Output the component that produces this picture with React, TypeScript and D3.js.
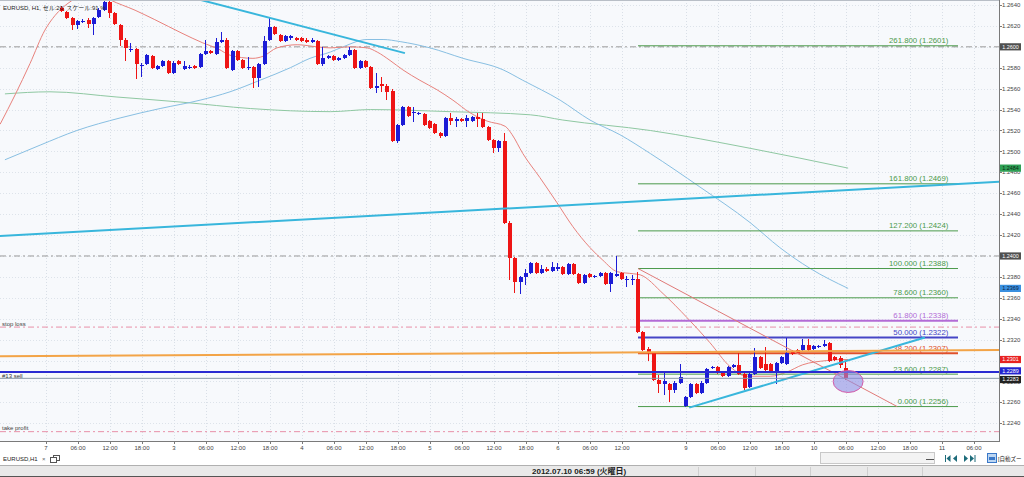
import React from "react";
import * as d3 from "d3";

// ---------- data (EURUSD H1, hours counted from day "7"/2 00:00) ----------
const START_HOUR = 3;
const opens = [
  1.2637, 1.2633, 1.2628, 1.2621, 1.2624, 1.2626, 1.2622, 1.2629, 1.2635, 1.2643,
  1.2632, 1.2621, 1.2607, 1.2597, 1.2598, 1.2582, 1.2584, 1.2591, 1.2579, 1.2582,
  1.2586, 1.2575, 1.2586, 1.2579, 1.258, 1.2582, 1.2581, 1.2593, 1.2596, 1.2593,
  1.2605, 1.2607, 1.2578, 1.2596, 1.2587, 1.258, 1.2581, 1.257, 1.2584, 1.2607,
  1.2619, 1.2611, 1.2606, 1.2608, 1.2608, 1.2608, 1.2607, 1.2605, 1.2606, 1.2584,
  1.2589, 1.2591, 1.2587, 1.2589, 1.2592, 1.2597, 1.258, 1.2586, 1.2581, 1.2561,
  1.2564, 1.2563, 1.2558, 1.251, 1.2525, 1.2542, 1.2537, 1.2536, 1.2536, 1.2529,
  1.2526, 1.2518, 1.2515, 1.2532, 1.2529, 1.2531, 1.2529, 1.2529, 1.2533, 1.2531,
  1.2523, 1.2511, 1.2503, 1.251, 1.2432, 1.2398, 1.2375, 1.238, 1.2384, 1.2393,
  1.2384, 1.2388, 1.2386, 1.2388, 1.2389, 1.2383, 1.2392, 1.2383, 1.2374, 1.2383,
  1.238, 1.2381, 1.2384, 1.2373, 1.2381, 1.2384, 1.2377, 1.2377, 1.2378, 1.2327,
  1.2311, 1.2307, 1.2281, 1.2278, 1.2278, 1.2272, 1.2279, 1.2257, 1.2265, 1.2278,
  1.2269, 1.2279, 1.2293, 1.2294, 1.2288, 1.2285, 1.2294, 1.2296, 1.2287, 1.2275,
  1.2287, 1.2303, 1.2297, 1.2297, 1.229, 1.2298, 1.2297, 1.2309, 1.231, 1.231,
  1.2315, 1.2311, 1.2313, 1.2314, 1.2317, 1.2303, 1.2302, 1.2293,
];
const closes = [
  1.2634, 1.2628, 1.2621, 1.2625, 1.2625, 1.2622, 1.2628, 1.2635, 1.2643, 1.2632,
  1.2622, 1.2607, 1.2599, 1.2598, 1.2584, 1.2583, 1.2592, 1.258, 1.2582, 1.2586,
  1.2575, 1.2585, 1.2584, 1.2582, 1.2581, 1.258, 1.2593, 1.2596, 1.2594, 1.2605,
  1.2607, 1.258, 1.2596, 1.2587, 1.258, 1.2581, 1.257, 1.2584, 1.2606, 1.2619,
  1.2612, 1.2606, 1.261, 1.261, 1.2607, 1.2606, 1.2605, 1.2607, 1.2584, 1.2589,
  1.2591, 1.2587, 1.2589, 1.2592, 1.2597, 1.258, 1.2586, 1.2581, 1.2561, 1.2563,
  1.2563, 1.2557, 1.251, 1.2525, 1.2542, 1.2534, 1.2538, 1.2537, 1.2525, 1.2522,
  1.2518, 1.2515, 1.2532, 1.2529, 1.2531, 1.2529, 1.2532, 1.2533, 1.2531, 1.2523,
  1.2511, 1.2503, 1.251, 1.2432, 1.2398, 1.2375, 1.238, 1.2384, 1.2393, 1.2384,
  1.2388, 1.2386, 1.2389, 1.2389, 1.2383, 1.2392, 1.2383, 1.2374, 1.2382, 1.238,
  1.2381, 1.2384, 1.2373, 1.2384, 1.2383, 1.2378, 1.2378, 1.2378, 1.2327, 1.231,
  1.2308, 1.2281, 1.2278, 1.228, 1.2272, 1.2279, 1.2284, 1.2265, 1.2278, 1.2269,
  1.2279, 1.2292, 1.2294, 1.2288, 1.2285, 1.2294, 1.2296, 1.2287, 1.2274, 1.2287,
  1.2303, 1.2293, 1.2291, 1.229, 1.2298, 1.2303, 1.2307, 1.2306, 1.2307, 1.2315,
  1.231, 1.2314, 1.2314, 1.2316, 1.23, 1.2301, 1.2296, 1.2283,
];
const highs = [
  1.2639, 1.2634, 1.2629, 1.2626, 1.2627, 1.2628, 1.2629, 1.2637, 1.2645, 1.2645,
  1.2633, 1.2622, 1.2608, 1.2604, 1.2599, 1.2585, 1.2593, 1.2592, 1.2583, 1.2587,
  1.2587, 1.2586, 1.2587, 1.2586, 1.2583, 1.2583, 1.2594, 1.2607, 1.2597, 1.2608,
  1.2614, 1.2608, 1.2597, 1.2597, 1.2588, 1.259, 1.2582, 1.2585, 1.261, 1.2628,
  1.262, 1.2612, 1.2611, 1.2611, 1.2609, 1.2609, 1.2608, 1.2608, 1.2607, 1.26,
  1.2592, 1.2592, 1.259, 1.2593, 1.26, 1.2598, 1.2587, 1.2587, 1.2582, 1.2575,
  1.2571, 1.2564, 1.256, 1.2526, 1.2543, 1.2543, 1.2542, 1.2538, 1.2537, 1.253,
  1.2527, 1.2519, 1.2533, 1.2537, 1.2533, 1.2532, 1.2535, 1.2534, 1.2537, 1.2537,
  1.2524, 1.2512, 1.2511, 1.2518, 1.2433, 1.2399, 1.2381, 1.2388, 1.2394, 1.2394,
  1.2391, 1.2389, 1.2394, 1.2393, 1.239, 1.2393, 1.2393, 1.2384, 1.2383, 1.2384,
  1.2382, 1.2385, 1.2385, 1.2385, 1.24, 1.2385, 1.2381, 1.2382, 1.2385, 1.2328,
  1.2313, 1.2308, 1.2286, 1.2288, 1.2279, 1.228, 1.2297, 1.2266, 1.2279, 1.2279,
  1.228, 1.2293, 1.2295, 1.2295, 1.2289, 1.2295, 1.2297, 1.2307, 1.2288, 1.2288,
  1.2312, 1.2304, 1.2313, 1.2298, 1.2299, 1.2304, 1.2322, 1.231, 1.2311, 1.2321,
  1.2321, 1.2315, 1.2315, 1.232, 1.2318, 1.2304, 1.2304, 1.2299,
];
const lows = [
  1.2633, 1.2627, 1.2616, 1.2617, 1.2623, 1.2618, 1.2611, 1.2628, 1.2634, 1.2628,
  1.2621, 1.2601, 1.2586, 1.2595, 1.2569, 1.2571, 1.2583, 1.2579, 1.2578, 1.2581,
  1.2574, 1.2574, 1.2583, 1.2578, 1.2579, 1.2579, 1.258, 1.2592, 1.2593, 1.2592,
  1.2604, 1.2579, 1.2577, 1.2586, 1.2579, 1.2578, 1.2561, 1.2562, 1.2583, 1.2606,
  1.2611, 1.2605, 1.2605, 1.2607, 1.2606, 1.2605, 1.2604, 1.2604, 1.2583, 1.2582,
  1.2588, 1.2586, 1.2586, 1.2588, 1.2591, 1.2579, 1.2579, 1.258, 1.256, 1.2556,
  1.2557, 1.2549, 1.2509, 1.2508, 1.2524, 1.2533, 1.2528, 1.2535, 1.2524, 1.2521,
  1.2517, 1.2513, 1.2514, 1.2525, 1.2523, 1.2528, 1.2523, 1.2528, 1.2523, 1.2522,
  1.251, 1.2498, 1.2499, 1.2431, 1.2377, 1.2365, 1.2364, 1.2372, 1.2383, 1.2383,
  1.2383, 1.2385, 1.2385, 1.2386, 1.2382, 1.2382, 1.2382, 1.2373, 1.2373, 1.2379,
  1.2379, 1.238, 1.2372, 1.2366, 1.238, 1.2377, 1.237, 1.2372, 1.2326, 1.2309,
  1.23, 1.228, 1.2269, 1.2267, 1.226, 1.2269, 1.2278, 1.2256, 1.2264, 1.2268,
  1.2268, 1.2278, 1.2292, 1.2287, 1.2284, 1.2284, 1.2293, 1.2286, 1.2272, 1.2274,
  1.2286, 1.2292, 1.229, 1.2289, 1.2278, 1.2297, 1.2296, 1.2305, 1.2306, 1.2309,
  1.2309, 1.231, 1.2312, 1.2313, 1.2299, 1.23, 1.2293, 1.2281,
];

// moving averages: [hour, price]
const redMA = [
  [-8.6, 1.2526], [-5.8, 1.2554], [-3.0, 1.2584], [-0.2, 1.2616], [1.7, 1.263], [3.0, 1.2637],
  [4.5, 1.2643], [6, 1.2648], [8.6, 1.2651], [10.9, 1.2648], [12, 1.2645], [16.7, 1.2635],
  [20.4, 1.2626], [25.5, 1.2613], [29.3, 1.2604], [32.3, 1.2598], [34.5, 1.2592], [38.8, 1.2589],
  [40.7, 1.2591], [43.3, 1.2599], [47.1, 1.2602], [50.8, 1.26], [53.3, 1.2599], [57, 1.26],
  [60.2, 1.2599], [62.1, 1.2595], [64.5, 1.2587], [66.9, 1.2578], [70.1, 1.2568], [73.3, 1.2559],
  [76.3, 1.2549], [79.5, 1.2537], [82.7, 1.2529], [86.1, 1.2524], [87.4, 1.2516], [89.4, 1.2498],
  [92.6, 1.2475], [95.8, 1.2451], [98.8, 1.2428], [102, 1.2408], [104.4, 1.2396], [107.1, 1.2385],
  [110.1, 1.2383], [111.4, 1.2382], [115.7, 1.2364], [120.2, 1.2341], [124.5, 1.2317], [128.3, 1.2294],
  [131.4, 1.2285], [135.8, 1.2285], [138.9, 1.2289], [141.9, 1.2296], [146.4, 1.23], [148.9, 1.2301],
  [150.4, 1.2301],
];
const blueMA = [
  [-7.7, 1.2492], [-1.1, 1.2506], [5.8, 1.252], [13.9, 1.2532], [21.4, 1.2541], [28.9, 1.2549],
  [34.5, 1.2557], [40.1, 1.2568], [45.8, 1.258], [49.5, 1.2589], [53.3, 1.2595], [55.7, 1.26],
  [60.2, 1.2607], [63.2, 1.2607], [66.4, 1.2605], [72, 1.2599], [78.2, 1.2589], [85.7, 1.2578],
  [89.4, 1.2568], [96.4, 1.2549], [102, 1.253], [107.6, 1.2516], [113.3, 1.2498], [122.6, 1.2466],
  [132, 1.2432], [137.6, 1.2408], [143.3, 1.2388], [150.4, 1.2369],
];
const greenMA = [
  [-7.7, 1.2555], [0.75, 1.2557], [13.3, 1.2552], [25.7, 1.2547], [38.3, 1.2541], [53.3, 1.2538],
  [60.8, 1.254], [75.8, 1.2538], [90.8, 1.2535], [96.9, 1.253], [113.3, 1.252], [132, 1.2503],
  [150.4, 1.2484],
];

// drawn objects
const cyanTopLine = [[27, 1.26475], [67.3, 1.2594]];
const cyanLongLine = [[-9, 1.2419], [179, 1.2471]];
const cyanRiseLine = [[120.6, 1.2255], [164.8, 1.2322]];
const orangeLine = [[-9, 1.2304], [179, 1.231]];
const redTrendLine = [[111, 1.2388], [159.6, 1.2256]];

const fibRatios = ["261.800", "161.800", "127.200", "100.000", "78.600", "61.800", "50.000", "38.200", "23.600", "0.000"];
const fibPrices = [1.2601, 1.2469, 1.2424, 1.2388, 1.236, 1.2338, 1.2322, 1.2307, 1.2287, 1.2256];

const stopLoss = 1.2332;
const takeProfit = 1.2232;
const sellPrice = 1.2289;
const bidPrice = 1.2283;
const roundLevels = [1.26, 1.24];

const priceTickLabels = [
  "1.2240", "1.2260", "1.2280", "1.2300", "1.2320", "1.2340", "1.2360", "1.2380", "1.2400", "1.2420",
  "1.2440", "1.2460", "1.2480", "1.2500", "1.2520", "1.2540", "1.2560", "1.2580", "1.2600", "1.2620", "1.2640",
];
const timeTickHours = [0, 6, 12, 18, 24, 30, 36, 42, 48, 54, 60, 66, 72, 78, 84, 90, 96, 102, 108, 120, 126, 132, 138, 144, 150, 156, 162, 168, 174];
const timeTickLabels = [
  "7", "06:00", "12:00", "18:00", "3", "06:00", "12:00", "18:00", "4", "06:00", "12:00", "18:00",
  "5", "06:00", "12:00", "18:00", "6", "06:00", "12:00", "9", "06:00", "12:00", "18:00",
  "10", "06:00", "12:00", "18:00", "11", "06:00",
];

const priceBoxes = [
  { v: 1.26, label: "1.2600", bg: "#505050", fg: "#ffffff", dy: 0 },
  { v: 1.2484, label: "1.2484", bg: "#2ea055", fg: "#0b2a12", dy: 0 },
  { v: 1.24, label: "1.2400", bg: "#505050", fg: "#ffffff", dy: 0 },
  { v: 1.2369, label: "1.2369", bg: "#3a90e0", fg: "#0a2040", dy: 0 },
  { v: 1.2301, label: "1.2301", bg: "#e82222", fg: "#ffffff", dy: 0 },
  { v: 1.2289, label: "1.2289", bg: "#2424d0", fg: "#ffffff", dy: -1.2 },
  { v: 1.2283, label: "1.2283", bg: "#222222", fg: "#ffffff", dy: 1.2 },
];

const FONT = "'Liberation Sans', 'DejaVu Sans', 'Noto Sans CJK JP', sans-serif";
const GREEN = "#4b9a4b";

export default function App() {
  const PR = 999;
  const PB = 441;
  const x = d3.scaleLinear().domain([0, 24]).range([46, 174]);
  const y = d3.scaleLinear().domain([1.224, 1.264]).range([423.3, 5]);
  const curve = d3.line<number[]>().x((d) => x(d[0])).y((d) => y(d[1])).curve(d3.curveMonotoneX);
  const straight = d3.line<number[]>().x((d) => x(d[0])).y((d) => y(d[1]));

  const candles = opens.map((o, i) => ({ h: START_HOUR + i, o, c: closes[i], hi: highs[i], lo: lows[i] }));
  const fibStart = x(111);
  const fibEnd = x(171);
  const fibLabelX = x(169.2);
  const fibColor = (r: string) =>
    r === "61.800" ? "#b36bd6" : r === "50.000" ? "#4646c6" : r === "38.200" ? "#e0502a" : GREEN;
  const fibWidth = (r: string) => (r === "61.800" || r === "50.000" || r === "38.200" ? 2 : 1);
  // tick labels fully covered by a price box are not drawn (hidden in the reference)
  const hiddenUnderBox = (t: string) => priceBoxes.some((b) => Math.abs(y(b.v) - y(+t)) < 3);

  return (
    <div style={{ position: "absolute", left: 0, top: 0 }}>
      <svg width={1024} height={477} style={{ display: "block", fontFamily: FONT }}>
        <defs>
          <clipPath id="plot">
            <rect x={0} y={0} width={PR} height={PB} />
          </clipPath>
        </defs>
        <rect width={1024} height={477} fill="#ffffff" />
        <rect x={0} y={0} width={PR} height={PB} fill="#f7f9fc" />

        {/* grid */}
        {priceTickLabels.map((t) => (
          <line key={"hg" + t} x1={0} x2={PR} y1={Math.round(y(+t)) + 0.5} y2={Math.round(y(+t)) + 0.5}
            stroke="#dde3ea" strokeDasharray="1,2" />
        ))}
        {timeTickHours.map((h) => (
          <line key={"vg" + h} x1={Math.round(x(h)) + 0.5} x2={Math.round(x(h)) + 0.5} y1={0} y2={PB}
            stroke="#d9dfe7" strokeDasharray="1,2" />
        ))}

        <g clipPath="url(#plot)">
          {/* round number levels */}
          {roundLevels.map((v) => (
            <line key={"rl" + v} x1={0} x2={PR} y1={y(v)} y2={y(v)} stroke="#9a9a9a" strokeDasharray="6,3,2,3" />
          ))}
          {/* stop loss / take profit */}
          <line x1={0} x2={PR} y1={y(stopLoss)} y2={y(stopLoss)} stroke="#e890a8" strokeDasharray="6,3,2,3" />
          <line x1={0} x2={PR} y1={y(takeProfit)} y2={y(takeProfit)} stroke="#e890a8" strokeDasharray="6,3,2,3" />
          <text x={2} y={y(stopLoss) - 1.5} fontSize={6} fill="#444">stop loss</text>
          <text x={2} y={y(takeProfit) - 1.5} fontSize={6} fill="#444">take profit</text>

          {/* moving averages */}
          <path d={curve(greenMA) || ""} fill="none" stroke="#8fc8a2" strokeWidth={1} />
          <path d={curve(blueMA) || ""} fill="none" stroke="#88bfe2" strokeWidth={1} />
          <path d={curve(redMA) || ""} fill="none" stroke="#e8827c" strokeWidth={1} />

          {/* fibonacci */}
          {fibRatios.map((r, i) => (
            <g key={"fib" + r}>
              <line x1={fibStart} x2={fibEnd} y1={y(fibPrices[i])} y2={y(fibPrices[i])}
                stroke={fibColor(r)} strokeWidth={fibWidth(r)} />
              <text x={fibLabelX} y={y(fibPrices[i]) - 2.5} fontSize={7.8} textAnchor="end" fill={fibColor(r)}>
                {`${r} (${fibPrices[i].toFixed(4)})`}
              </text>
            </g>
          ))}

          {/* candles */}
          {candles.map((d) => {
            const cx = Math.round(x(d.h));
            const up = d.c >= d.o;
            const col = up ? "#1c1cd6" : "#ee1515";
            const top = y(Math.max(d.o, d.c));
            const bh = Math.max(1, Math.abs(y(d.o) - y(d.c)));
            return (
              <g key={"c" + d.h} shapeRendering="crispEdges">
                <line x1={cx - 0.5} x2={cx - 0.5} y1={y(d.hi)} y2={y(d.lo)} stroke={col} strokeWidth={1} />
                <rect x={cx - 2} y={top} width={4} height={bh} fill={col} />
              </g>
            );
          })}

          {/* trend lines */}
          <path d={straight(redTrendLine) || ""} stroke="#e07a78" strokeWidth={1} fill="none" />
          <path d={straight(cyanTopLine) || ""} stroke="#38b6dc" strokeWidth={2} fill="none" />
          <path d={straight(cyanLongLine) || ""} stroke="#38b6dc" strokeWidth={2} fill="none" />
          <path d={straight(cyanRiseLine) || ""} stroke="#38b6dc" strokeWidth={2} fill="none" />
          <path d={straight(orangeLine) || ""} stroke="#f3a447" strokeWidth={2} fill="none" />

          {/* order & price lines */}
          <line x1={0} x2={PR} y1={y(sellPrice)} y2={y(sellPrice)} stroke="#2a2ad2" strokeWidth={2} />
          <text x={2} y={y(sellPrice) + 6} fontSize={6} fill="#333">#13 sell</text>
          <line x1={0} x2={PR} y1={y(bidPrice)} y2={y(bidPrice)} stroke="#8a98a8" strokeWidth={1} />

          {/* highlight ellipse */}
          <ellipse cx={x(150.4)} cy={y(1.228)} rx={15} ry={11} fill="#8c8ce2" fillOpacity={0.6}
            stroke="#d45aa8" strokeWidth={1} />
        </g>

        {/* header */}
        <text x={3} y={9.5} fontSize={6} fill="#222">EURUSD, H1, セル:20, スケール:91 %</text>

        {/* axes */}
        <line x1={0} x2={PR} y1={0.5} y2={0.5} stroke="#b8bec6" />
        <line x1={PR + 0.5} x2={PR + 0.5} y1={0} y2={PB} stroke="#7a7a7a" />
        <line x1={0} x2={PR + 1} y1={PB + 0.5} y2={PB + 0.5} stroke="#7a7a7a" />
        {priceTickLabels.map((t) => (
          <g key={"pt" + t}>
            <line x1={PR} x2={PR + 3} y1={Math.round(y(+t)) + 0.5} y2={Math.round(y(+t)) + 0.5} stroke="#7a7a7a" />
            {!hiddenUnderBox(t) && (
              <text x={1002} y={y(+t)} dy="0.35em" fontSize={6} fill="#444">{t}</text>
            )}
          </g>
        ))}
        {timeTickHours.map((h, i) => (
          <g key={"tt" + h}>
            <line x1={Math.round(x(h)) + 0.5} x2={Math.round(x(h)) + 0.5} y1={PB} y2={PB + 3} stroke="#7a7a7a" />
            <text x={x(h)} y={450} fontSize={6} textAnchor="middle" fill="#444">{timeTickLabels[i]}</text>
          </g>
        ))}

        {/* price boxes */}
        {priceBoxes.map((b) => (
          <g key={"pb" + b.label}>
            <rect x={1000} y={y(b.v) + b.dy - 3.6} width={21} height={7.2} fill={b.bg} />
            <text x={1010.5} y={y(b.v) + b.dy} dy="0.35em" fontSize={5.4} textAnchor="middle" fill={b.fg}>{b.label}</text>
          </g>
        ))}

        {/* tab row */}
        <text x={3} y={461} fontSize={6} fill="#222">EURUSD,H1</text>
        <text x={42} y={461} fontSize={6} fill="#666">×</text>
        <rect x={53.5} y={455.5} width={6} height={5} fill="#fff" stroke="#555" />
        <rect x={50.5} y={457.5} width={6} height={5} fill="#fff" stroke="#555" />

        <rect x={820.5} y={452.5} width={114} height={11} fill="#f3f3f3" stroke="#c8c8c8" />
        <line x1={926} x2={934} y1={459.5} y2={459.5} stroke="#555" />
        <g fill="#1d6b7a">
          <rect x={945} y={455} width={1} height={7} />
          <path d="M946.5,458.5 L950.5,455 L950.5,462 Z" />
          <path d="M953,458.5 L957,455 L957,462 Z" />
          <path d="M964,455 L968,458.5 L964,462 Z" />
          <path d="M970,455 L974,458.5 L970,462 Z" />
          <rect x={974.5} y={455} width={1} height={7} />
        </g>
        <rect x={987.5} y={453.5} width={9} height={9} fill="#bcd6f2" stroke="#3a78c8" />
        <rect x={989} y={457} width={6} height={3} fill="#3a78c8" />
        <text x={998} y={461} fontSize={5.5} fill="#222">[自動ズー</text>

        {/* status bar */}
        <rect x={0} y={465} width={1024} height={12} fill="#e9e9e9" />
        <line x1={0} x2={1024} y1={465.5} y2={465.5} stroke="#b0b0b0" />
        <line x1={0} x2={1024} y1={476.5} y2={476.5} stroke="#555" />
        {[698, 755, 810, 867, 922].map((sx) => (
          <line key={"sep" + sx} x1={sx + 0.5} x2={sx + 0.5} y1={467} y2={476} stroke="#cfcfcf" />
        ))}
        <text x={532} y={474} fontSize={8} fontWeight="bold" fill="#222">2012.07.10 06:59 (火曜日)</text>
      </svg>
    </div>
  );
}
